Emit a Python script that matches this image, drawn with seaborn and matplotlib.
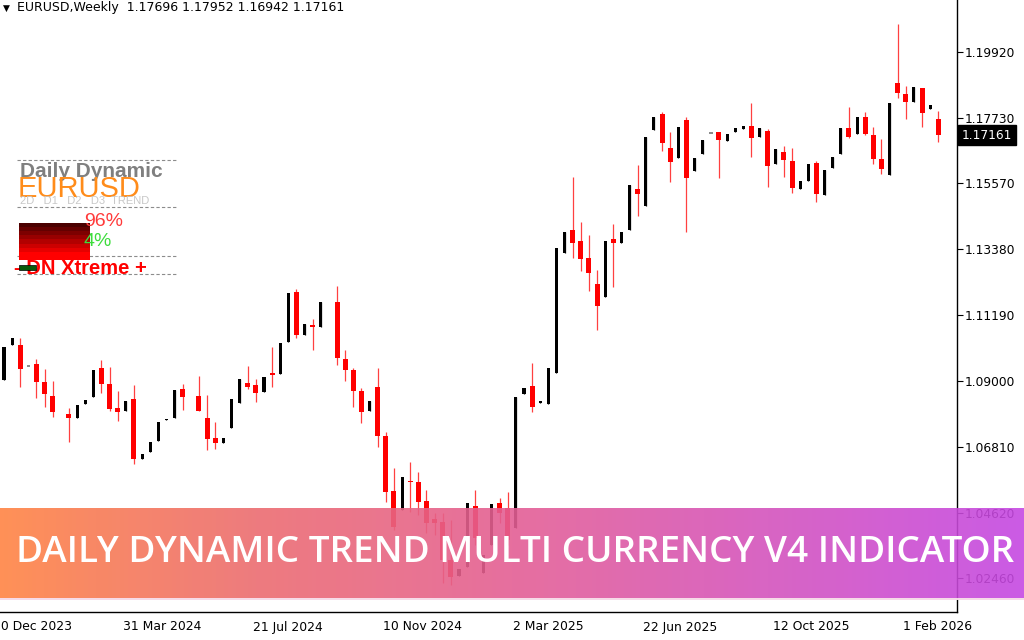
import numpy as np
import pandas as pd
import matplotlib
matplotlib.use("Agg")
import matplotlib.pyplot as plt
import seaborn as sns
from matplotlib.colors import LinearSegmentedColormap, ListedColormap

nan = np.nan

# weekly EURUSD candles, first visible bar = week of 17 Dec 2023
dates = pd.date_range("2023-12-17", periods=116, freq="7D")

opens = [1.0903, 1.1019, 1.1019, 1.0950, 1.0956, 1.0897, 1.0850, nan, 1.0790, 1.0777,
         1.0824, 1.0847, 1.0943, 1.0890, 1.0810, 1.0800, 1.0840, 1.0641, 1.0664, 1.0701,
         1.0770, 1.0777, 1.0873, nan, 1.0850, 1.0777, 1.0711, 1.0694, 1.0744, 1.0827,
         1.0893, 1.0887, 1.0863, 1.0926, 1.0923, 1.1029, 1.1195, 1.1053, 1.1086, 1.1079,
         nan, 1.1162, 1.0973, 1.0936, 1.0867, 1.0800, 1.0880, 1.0717, 1.0535, 1.0472,
         1.0568, 1.0565, 1.0502, 1.0442, 1.0432, 1.0306, 1.0253, 1.0282, 1.0485, 1.0263,
         1.0356, 1.0495, 1.0478, 1.0412, 1.0857, 1.0883, 1.0827, 1.0824, 1.0926, 1.1325,
         1.1401, 1.1365, 1.1308, 1.1222, 1.1179, 1.1371, 1.1358, 1.1401, 1.1537, 1.1481,
         1.1733, 1.1786, 1.1673, 1.1640, 1.1766, 1.1597, 1.1653, 1.1723, 1.1726, 1.1697,
         1.1726, 1.1736, 1.1746, 1.1710, 1.1730, 1.1620, 1.1660, 1.1630, 1.1537, 1.1564,
         1.1624, 1.1517, 1.1607, 1.1653, 1.1740, 1.1720, 1.1776, 1.1716, 1.1637, 1.1584,
         1.1889, 1.1853, 1.1826, 1.1872, 1.1803, 1.17696]
highs = [1.1013, 1.1043, 1.1043, 1.0950, 1.0973, 1.0940, 1.0900, nan, 1.0810, 1.0820,
         1.0837, 1.0936, 1.0970, 1.0946, 1.0867, 1.0834, 1.0887, 1.0658, 1.0697, 1.0764,
         1.0774, 1.0870, 1.0890, nan, 1.0916, 1.0853, 1.0764, 1.0711, 1.0840, 1.0907,
         1.0950, 1.0907, 1.0913, 1.1013, 1.1026, 1.1192, 1.1205, 1.1089, 1.1106, 1.1162,
         nan, 1.1215, 1.1003, 1.0943, 1.0877, 1.0834, 1.0943, 1.0731, 1.0611, 1.0581,
         1.0631, 1.0598, 1.0538, 1.0462, 1.0462, 1.0438, 1.0276, 1.0495, 1.0538, 1.0322,
         1.0492, 1.0512, 1.0531, 1.0847, 1.0877, 1.0960, 1.0830, 1.0943, 1.1341, 1.1394,
         1.1577, 1.1428, 1.1385, 1.1268, 1.1365, 1.1421, 1.1394, 1.1550, 1.1617, 1.1710,
         1.1776, 1.1793, 1.1726, 1.1743, 1.1776, 1.1640, 1.1700, 1.1723, 1.1726, 1.1720,
         1.1740, 1.1746, 1.1823, 1.1740, 1.1736, 1.1670, 1.1680, 1.1673, 1.1564, 1.1620,
         1.1630, 1.1600, 1.1643, 1.1740, 1.1809, 1.1776, 1.1793, 1.1743, 1.1703, 1.1823,
         1.2085, 1.1879, 1.1876, 1.1872, 1.1816, 1.17952]
lows = [1.0903, 1.1019, 1.0880, 1.0950, 1.0844, 1.0814, 1.0780, nan, 1.0697, 1.0777,
        1.0824, 1.0847, 1.0860, 1.0800, 1.0767, 1.0800, 1.0624, 1.0641, 1.0664, 1.0701,
        1.0770, 1.0777, 1.0804, nan, 1.0800, 1.0671, 1.0674, 1.0694, 1.0744, 1.0827,
        1.0873, 1.0830, 1.0863, 1.0880, 1.0923, 1.1029, 1.1043, 1.1053, 1.1003, 1.1079,
        nan, 1.0953, 1.0900, 1.0814, 1.0760, 1.0800, 1.0681, 1.0498, 1.0405, 1.0472,
        1.0465, 1.0455, 1.0395, 1.0389, 1.0229, 1.0223, 1.0253, 1.0282, 1.0356, 1.0263,
        1.0356, 1.0429, 1.0356, 1.0412, 1.0857, 1.0797, 1.0827, 1.0824, 1.0926, 1.1325,
        1.1308, 1.1265, 1.1199, 1.1069, 1.1179, 1.1212, 1.1358, 1.1401, 1.1448, 1.1481,
        1.1733, 1.1663, 1.1560, 1.1640, 1.1394, 1.1597, 1.1653, 1.1723, 1.1574, 1.1697,
        1.1726, 1.1736, 1.1643, 1.1710, 1.1544, 1.1620, 1.1577, 1.1524, 1.1537, 1.1564,
        1.1494, 1.1517, 1.1607, 1.1653, 1.1707, 1.1720, 1.1716, 1.1620, 1.1587, 1.1584,
        1.1839, 1.1770, 1.1826, 1.1743, 1.1803, 1.16942]
closes = [1.1013, 1.1043, 1.0940, 1.0950, 1.0897, 1.0857, 1.0797, nan, 1.0777, 1.0820,
          1.0837, 1.0936, 1.0890, 1.0807, 1.0797, 1.0834, 1.0641, 1.0658, 1.0697, 1.0764,
          1.0774, 1.0870, 1.0847, nan, 1.0800, 1.0707, 1.0694, 1.0711, 1.0840, 1.0907,
          1.0880, 1.0860, 1.0913, 1.0920, 1.1026, 1.1192, 1.1053, 1.1089, 1.1079, 1.1162,
          nan, 1.0976, 1.0936, 1.0867, 1.0797, 1.0834, 1.0717, 1.0531, 1.0415, 1.0581,
          1.0565, 1.0498, 1.0429, 1.0429, 1.0306, 1.0249, 1.0276, 1.0495, 1.0379, 1.0322,
          1.0492, 1.0462, 1.0372, 1.0847, 1.0877, 1.0814, 1.0830, 1.0943, 1.1341, 1.1394,
          1.1358, 1.1305, 1.1258, 1.1149, 1.1365, 1.1358, 1.1394, 1.1550, 1.1521, 1.1710,
          1.1776, 1.1690, 1.1627, 1.1743, 1.1574, 1.1640, 1.1700, 1.1723, 1.1700, 1.1720,
          1.1740, 1.1746, 1.1707, 1.1740, 1.1614, 1.1670, 1.1634, 1.1541, 1.1564, 1.1620,
          1.1521, 1.1600, 1.1643, 1.1740, 1.1710, 1.1776, 1.1720, 1.1637, 1.1604, 1.1823,
          1.1856, 1.1826, 1.1876, 1.1790, 1.1816, 1.17161]

price_ticks = [1.19920, 1.17730, 1.15570, 1.13380, 1.11190, 1.09000, 1.06810, 1.04620, 1.02460]
date_ticks = ["10 Dec 2023", "31 Mar 2024", "21 Jul 2024", "10 Nov 2024", "2 Mar 2025",
              "22 Jun 2025", "12 Oct 2025", "1 Feb 2026"]
last_price = 1.17161
header = "EURUSD,Weekly  1.17696 1.17952 1.16942 1.17161"
banner_text = "DAILY DYNAMIC TREND MULTI CURRENCY V4 INDICATOR"

df = pd.DataFrame({"date": dates, "open": opens, "high": highs, "low": lows, "close": closes})
df["x"] = np.arange(len(df))
df = df.dropna()

sns.set_theme(style="white")
plt.rcParams["font.family"] = ["DejaVu Sans"]

fig = plt.figure(figsize=(10.24, 6.4), dpi=100, facecolor="white")
ax = fig.add_axes([0, 28 / 640, 957 / 1024, 612 / 640])
ax.set_facecolor("white")

flat = df[df.close == df.open]
up = df[(df.close > df.open)]
dn = df[df.close < df.open]

# bearish candles: red wick + 5px body
ax.vlines(dn.x, dn.low, dn.high, color="#ff4040", lw=0.9, zorder=2)
ax.bar(dn.x, dn.open - dn.close, bottom=dn.close, width=0.62, color="#ff0000",
       linewidth=0, zorder=3)
# bullish candles: thin black bars
ax.vlines(up.x, up.low, up.high, color="black", lw=0.9, zorder=2)
ax.bar(up.x, np.maximum(up.close - up.open, 0.0005), bottom=up.open, width=0.38,
       color="black", linewidth=0, zorder=3)
ax.hlines(flat.open, flat.x - 0.22, flat.x + 0.22, color="#808080", lw=1.3, zorder=3)

ax.set_xlim(-0.49, 117.3)
ax.set_ylim(1.01331, 1.21646)

for s in ["left", "top"]:
    ax.spines[s].set_visible(False)
for s in ["right", "bottom"]:
    ax.spines[s].set_color("black")
    ax.spines[s].set_linewidth(1)

ax.yaxis.tick_right()
ax.set_yticks(price_ticks)
ax.set_yticklabels([f"{v:.5f}" for v in price_ticks])
ax.tick_params(axis="y", direction="out", length=4, width=0.8, pad=1.5,
               labelsize=8.8, colors="black")

tick_idx = [-1 + 16 * k for k in range(len(date_ticks))]
ax.set_xticks(tick_idx[1:])
ax.set_xticklabels([])
ax.tick_params(axis="x", direction="out", length=4, width=0.8, colors="black")
for i, lab in zip(tick_idx, date_ticks):
    ax.annotate(lab, xy=(i, 0), xycoords=("data", "axes fraction"), xytext=(-3, -15),
                textcoords="offset pixels", ha="left", va="center", fontsize=8.9,
                color="black", annotation_clip=False)

ax.annotate(f"{last_price:.5f}", xy=(1, last_price), xycoords=("axes fraction", "data"),
            xytext=(5, 0), textcoords="offset pixels", ha="left", va="center",
            fontsize=8.8, color="white", annotation_clip=False,
            bbox=dict(boxstyle="square,pad=0.3", fc="black", ec="black"))

# overlay in pixel space for the indicator panel and banner
ov = fig.add_axes([0, 0, 1, 1], zorder=5)
ov.set_xlim(0, 1024)
ov.set_ylim(640, 0)
ov.axis("off")
ov.patch.set_alpha(0)

ov.text(3, 8, "\u25bc", fontsize=6.5, va="center", ha="left", color="black")
ov.text(17, 8, header, fontsize=9, va="center", ha="left", color="black")

for yy in [160, 207, 256, 274]:
    ov.plot([17, 177], [yy, yy], color="#8c8c8c", lw=0.8, ls=(0, (3, 2)))
ov.text(20, 177, "Daily Dynamic", family="Liberation Sans", weight="bold",
        fontsize=15, color="#7f7f7f", va="baseline", ha="left")
ov.text(18, 197, "EURUSD", family="Liberation Sans", fontsize=21,
        color="#ff8c1a", va="baseline", ha="left")
ov.text(20, 201, "2D   D1   D2   D3  TREND", family="Liberation Sans", fontsize=8,
        color="#c8c8c8", va="center", ha="left")
ov.text(14, 268, "- DN Xtreme +", family="Liberation Sans", weight="bold",
        fontsize=14.5, color="#ff0000", va="center", ha="left", zorder=2)
steps = ListedColormap(["#4a0000", "#640000", "#7d0000", "#980000", "#b20000",
                        "#cc0000", "#e60000", "#ff0000", "#ff0000"])
ov.imshow(np.linspace(0, 1, 9).reshape(-1, 1), cmap=steps, aspect="auto",
          extent=[19, 90, 260, 223], interpolation="nearest", zorder=3)
ov.text(84, 221, "96%", family="Liberation Sans", fontsize=14, color="#ff3a3a",
        va="center", ha="left", zorder=4)
ov.text(84, 241, "4%", family="Liberation Sans", fontsize=14, color="#3ddc3d",
        va="center", ha="left", zorder=4)
ov.add_patch(plt.Rectangle((19, 265), 17, 4.5, fc="#0b5a0b", ec="black", lw=0.5, zorder=4))

# gradient banner
grad = LinearSegmentedColormap.from_list(
    "banner", ["#ff8444", "#ec6c70", "#e45f94", "#d453bd", "#c548e2"])
ov.imshow(np.linspace(0, 1, 256).reshape(1, -1), cmap=grad, aspect="auto",
          extent=[0, 1024, 598, 508], alpha=0.9, zorder=6)
ov.plot([0, 1024], [598.5, 598.5], color="#f6dbe8", lw=1.4, zorder=7)
ov.set_xlim(0, 1024)
ov.set_ylim(640, 0)

t = ov.text(515, 553, banner_text, family="Open Sans", weight="semibold", fontsize=24,
            color="white", va="center", ha="center", zorder=8)
fig.canvas.draw()
w = t.get_window_extent().width
t.set_fontsize(24 * 1000 / w)

fig.savefig("out.png", dpi=100, facecolor="white")
